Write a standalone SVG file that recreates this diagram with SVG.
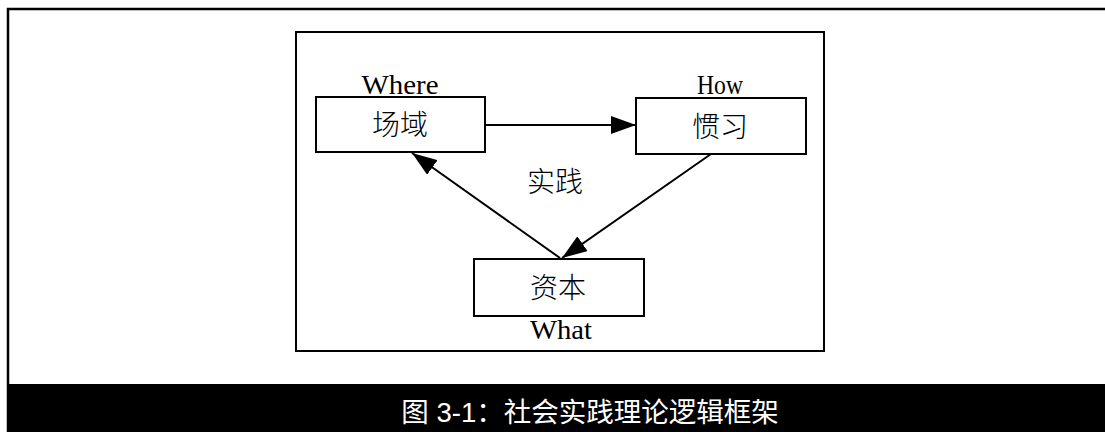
<svg xmlns="http://www.w3.org/2000/svg" width="1105" height="432" viewBox="0 0 1105 432">
<style>
.box{fill:#fff;stroke:#000;stroke-width:2}
.lat{font-family:"Liberation Serif",serif;font-size:27px;fill:#000;text-anchor:middle}
.cjk{font-family:"Noto Sans CJK SC",sans-serif;font-size:28px;fill:#000;text-anchor:middle;font-weight:300}
.edge{stroke:#000;stroke-width:2;fill:none;marker-end:url(#ah)}
.cap{font-family:"Liberation Sans","Noto Sans CJK SC",sans-serif;font-size:27.5px;fill:#fff;text-anchor:middle}
</style>
<defs>
<marker id="ah" markerUnits="userSpaceOnUse" markerWidth="26" markerHeight="18" refX="25" refY="9" orient="auto">
<path d="M0,0 L25,9 L0,18 Z" fill="#000"/>
</marker>
</defs>
<rect width="1105" height="432" fill="#fff"/>
<g id="frame">
<path d="M8,432 L8,9 L1105,9" fill="none" stroke="#000" stroke-width="2.5"/>
<rect x="296" y="32" width="528" height="319" fill="none" stroke="#000" stroke-width="2"/>
</g>
<g id="connectors">
<line class="edge" x1="485" y1="125" x2="636" y2="125"/>
<line class="edge" x1="711" y1="154" x2="562" y2="258"/>
<line class="edge" x1="560" y1="258" x2="412" y2="153"/>
</g>
<g id="node-changyu">
<rect class="box" x="316" y="97" width="169" height="55"/>
<text class="lat" x="400" y="94" textLength="77" lengthAdjust="spacingAndGlyphs">Where</text>
<text class="cjk" x="400" y="135">场域</text>
</g>
<g id="node-guanxi">
<rect class="box" x="636" y="98" width="170" height="56"/>
<text class="lat" x="720" y="94" textLength="46" lengthAdjust="spacingAndGlyphs">How</text>
<text class="cjk" x="720" y="137">惯习</text>
</g>
<g id="node-ziben">
<rect class="box" x="474" y="259" width="170" height="57"/>
<text class="cjk" x="558" y="298">资本</text>
<text class="lat" x="561" y="339" textLength="62" lengthAdjust="spacingAndGlyphs">What</text>
</g>
<g id="label-shijian">
<text class="cjk" x="555" y="192">实践</text>
</g>
<g id="caption">
<rect x="7" y="384" width="1098" height="48" fill="#000"/>
<text class="cap" x="590" y="422">图 3-1：社会实践理论逻辑框架</text>
</g>
</svg>
